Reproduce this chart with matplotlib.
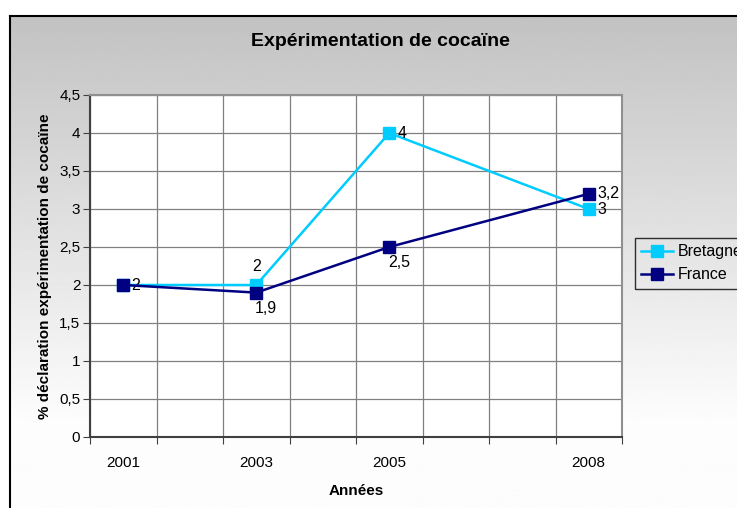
import numpy as np
import matplotlib.pyplot as plt
from matplotlib.patches import Rectangle

plt.rcParams['font.family'] = ['Liberation Sans', 'DejaVu Sans']

# Data
categories = [2001, 2002, 2003, 2004, 2005, 2006, 2007, 2008]
years = [2001, 2003, 2005, 2008]
shown_labels = ['2001', '2003', '2005', '2008']
bretagne = [2, 2, 4, 3]
france = [2, 1.9, 2.5, 3.2]
bretagne_txt = ['', '2', '4', '3']
france_txt = ['2', '1,9', '2,5', '3,2']
yticks = [0, 0.5, 1, 1.5, 2, 2.5, 3, 3.5, 4, 4.5]

fig = plt.figure(figsize=(7.37, 5.08), dpi=100)

# gradient background (grey on top fading to white)
bg = fig.add_axes([0, 0, 1, 1], zorder=-10)
grad = np.linspace(0.75, 1.0, 256)
grad = np.clip(grad * 1.15 - 0.11, 0.75, 0.99)
bg.imshow(grad[:, None], aspect='auto', cmap='gray', vmin=0, vmax=1,
          extent=[0, 1, 0, 1], origin='upper')
bg.set_xlim(0, 1)
bg.set_ylim(0, 1)
bg.axis('off')
fig.patches.append(Rectangle((-0.1, 0), 0.1 + 10 / 737, 1, transform=fig.transFigure,
                             facecolor='white', edgecolor='none', zorder=-5))
fig.patches.append(Rectangle((0, 1 - 16 / 508), 1, 16 / 508, transform=fig.transFigure,
                             facecolor='white', edgecolor='none', zorder=-5))
fig.add_artist(plt.Line2D([10 / 737, 10 / 737], [0, 1 - 16 / 508], color='black', lw=1.5,
                          transform=fig.transFigure))
fig.add_artist(plt.Line2D([10 / 737, 1], [1 - 16 / 508, 1 - 16 / 508], color='black', lw=1.5,
                          transform=fig.transFigure))

ax = fig.add_axes([90 / 737, 71 / 508, 532 / 737, 342 / 508])
ax.set_facecolor('white')

pos = [categories.index(y) for y in years]
ax.plot(pos, bretagne, color='#00ccff', lw=1.8, marker='s', markersize=8, label='Bretagne', zorder=3)
ax.plot(pos, france, color='#000080', lw=1.8, marker='s', markersize=8, label='France', zorder=4)

lab_fs = 11.5
for p, v, t in zip(pos, bretagne, bretagne_txt):
    if not t:
        continue
    if t == '2':
        ax.annotate(t, (p, v), xytext=(0, 8), textcoords='offset points', ha='center', va='bottom', fontsize=lab_fs)
    else:
        ax.annotate(t, (p, v), xytext=(6, 0), textcoords='offset points', ha='left', va='center', fontsize=lab_fs)
for p, v, t in zip(pos, france, france_txt):
    if t in ('1,9', '2,5'):
        ax.annotate(t, (p, v), xytext=(-1, -6), textcoords='offset points', ha='left', va='top', fontsize=lab_fs)
    else:
        ax.annotate(t, (p, v), xytext=(6, 0), textcoords='offset points', ha='left', va='center', fontsize=lab_fs)

ax.set_xlim(-0.5, len(categories) - 0.5)
ax.set_ylim(0, 4.5)
ax.set_yticks(yticks)
ax.set_yticklabels([str(v).replace('.', ',').replace(',0', '') for v in yticks], fontsize=11)
ax.set_xticks(np.arange(len(categories) + 1) - 0.5)
ax.set_xticklabels([])
ax.set_xticks(pos, minor=True)
ax.set_xticklabels(shown_labels, minor=True, fontsize=11)
ax.tick_params(axis='x', which='minor', length=0, pad=14)
ax.tick_params(axis='x', which='major', length=5, direction='out', color='#404040')
ax.tick_params(axis='y', length=5, direction='out', color='#404040', pad=2)
ax.grid(True, which='major', color='#808080', lw=0.9)
ax.set_axisbelow(True)

for s in ['left', 'bottom']:
    ax.spines[s].set_color('#404040')
    ax.spines[s].set_linewidth(1.5)
for s in ['top', 'right']:
    ax.spines[s].set_color('#909090')
    ax.spines[s].set_linewidth(1.5)

ax.set_xlabel('Années', fontsize=11, fontweight='bold', labelpad=10)
ax.set_ylabel('% déclaration expérimentation de cocaïne', fontsize=11, fontweight='bold', labelpad=5)
fig.text(380 / 737, 1 - 41 / 508, 'Expérimentation de cocaïne', ha='center', va='center',
         fontsize=14, fontweight='bold')

fig.legend(loc='upper left', bbox_to_anchor=(635 / 737, 1 - 238 / 508), fontsize=11.5,
           frameon=True, fancybox=False, edgecolor='black', facecolor='none',
           handlelength=2.0, handletextpad=0.3, borderpad=0.4, labelspacing=0.5,
           borderaxespad=0)

fig.savefig('out.png', dpi=100)
